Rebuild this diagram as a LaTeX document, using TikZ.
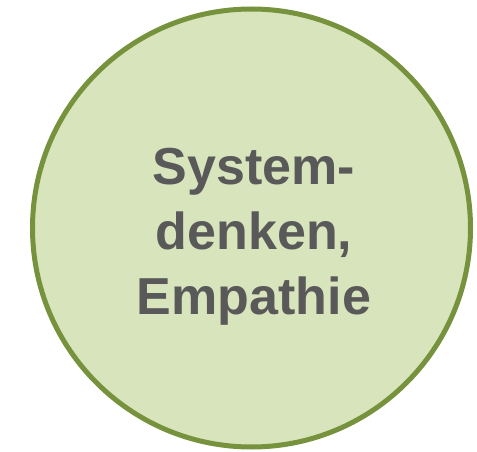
\documentclass[tikz,border=0pt]{standalone}
\usepackage{fontspec}
\setmainfont{Liberation Sans}
\usetikzlibrary{positioning}
\definecolor{leafgreen}{HTML}{D8E4BC}
\definecolor{leafgreen600}{HTML}{76923C}
\definecolor{textgrey}{HTML}{595959}
\tikzset{
  % circle style
  bubble/.style={
    draw=leafgreen600
    , fill=leafgreen
    , line width=5pt
    , circle
    , minimum size=438pt
    , inner sep=0pt
  },
  %text style
  bubbletext/.style={
    text=textgrey
    , font=\fontsize{52}{65}\selectfont\bfseries
    , align=center
  },
}
\begin{document}
\begin{tikzpicture}[x=1pt,y=-1pt]
      \useasboundingbox (0,0) rectangle (477,452);
      \node[bubble] (circ) at (251.5,228) {};
      \node[bubbletext] (lbl) at (254,237) {System-\\denken,\\Empathie};
    \end{tikzpicture}
\end{document}
